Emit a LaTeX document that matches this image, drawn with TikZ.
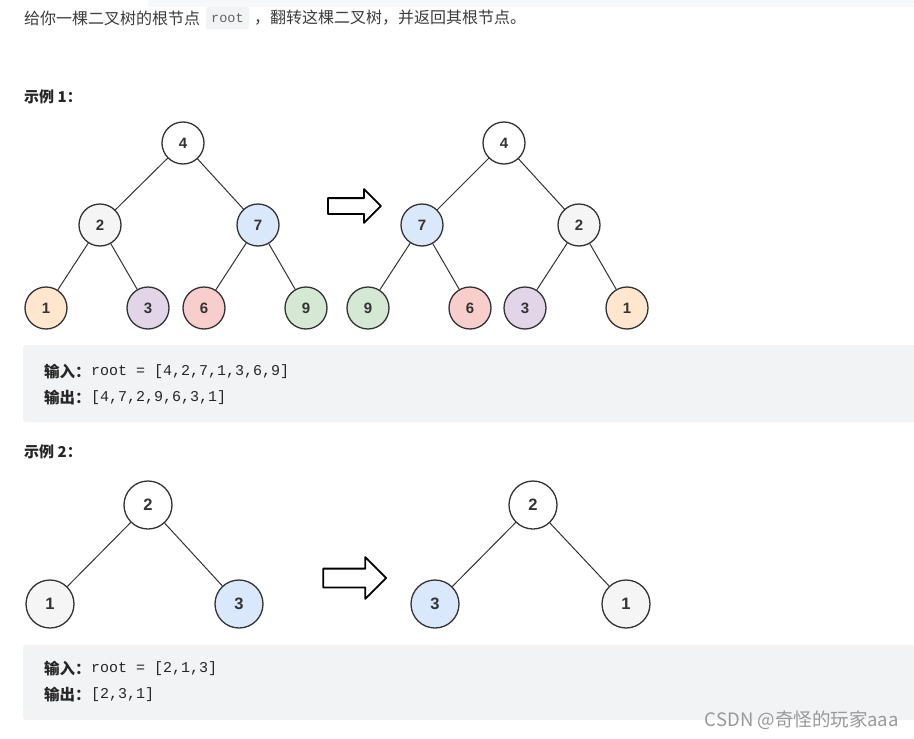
\documentclass[tikz,border=0pt]{standalone}
\usepackage{fontspec}
\setmainfont{Liberation Sans}
\setmonofont{Liberation Mono}
\newfontfamily\cjk{Noto Sans CJK SC}
\usepackage{tikz}
\usetikzlibrary{shapes.arrows}
\definecolor{nodeline}{HTML}{333333}
\definecolor{doctext}{HTML}{3C3C3C}
\definecolor{dochead}{HTML}{262626}
\definecolor{codebg}{HTML}{F2F3F5}
\definecolor{stripbg}{HTML}{F7F8FA}
\definecolor{cWhite}{HTML}{FFFFFF}
\definecolor{cGray}{HTML}{F5F5F5}
\definecolor{cBlue}{HTML}{DAE8FC}
\definecolor{cOrange}{HTML}{FFE6CC}
\definecolor{cPurple}{HTML}{E1D5E7}
\definecolor{cRed}{HTML}{F8CECC}
\definecolor{cGreen}{HTML}{D5E8D4}
\tikzset{
  bt/node/.style={draw=nodeline, circle, line width=1.3pt, inner sep=0pt, minimum size=42pt, text=nodeline, font=\bfseries\fontsize{15}{15}\selectfont},
  bt/big/.style={bt/node, minimum size=48pt, font=\bfseries\fontsize{16.5}{16.5}\selectfont},
  bt/edge/.style={draw=nodeline, line width=1pt},
  bt/flip/.style={single arrow, draw=black, line width=1.8pt, fill=white, inner xsep=0pt, outer sep=0pt, single arrow head extend=#1},
  doc/text/.style={anchor=west, inner sep=0pt, text=doctext, font=\cjk\fontsize{16}{16}\selectfont},
  doc/head/.style={anchor=west, inner sep=0pt, text=dochead, font=\cjk\bfseries\fontsize{15}{15}\selectfont},
  doc/code/.style={anchor=west, inner sep=0pt, text=dochead, font=\ttfamily\fontsize{15}{15}\selectfont},
  doc/box/.style={fill=codebg, rounded corners=3pt},
}

\begin{document}
\begin{tikzpicture}[x=1pt,y=-1pt, line cap=round, line join=round]
\useasboundingbox[fill=white] (0,0) rectangle (914,739);

% Header strip and task text
\fill[stripbg] (148,0) rectangle (914,7);
\fill[codebg, rounded corners=2pt] (206,7) rectangle (249,29);
\node[doc/text] (task) at (24,18) {给你一棵二叉树的根节点};
\node[doc/code, font=\ttfamily\fontsize{13.5}{13.5}\selectfont, text=doctext!80] (rootword) at (211,18) {root};
\node[doc/text] (task2) at (254,18) {，翻转这棵二叉树，并返回其根节点。};

% Example 1
\node[doc/head] (ex1) at (24,97) {示例 1：};

% Tree before
\node[bt/node, fill=cWhite]  (a4) at (183,143) {4};
\node[bt/node, fill=cGray]   (a2) at (100,225) {2};
\node[bt/node, fill=cBlue]   (a7) at (258,225) {7};
\node[bt/node, fill=cOrange] (a1) at (46,308)  {1};
\node[bt/node, fill=cPurple] (a3) at (148,308) {3};
\node[bt/node, fill=cRed]    (a6) at (204,308) {6};
\node[bt/node, fill=cGreen]  (a9) at (306,308) {9};
\foreach \p/\c in {a4/a2, a4/a7, a2/a1, a2/a3, a7/a6, a7/a9}
  \draw[bt/edge] (\p) -- (\c);

% Flip arrow
\node[bt/flip=9pt, inner ysep=7pt, minimum height=53pt] (flipA) at (350.5,206) {};

% Tree after
\node[bt/node, fill=cWhite]  (b4) at (504,143) {4};
\node[bt/node, fill=cBlue]   (b7) at (422,225) {7};
\node[bt/node, fill=cGray]   (b2) at (579,225) {2};
\node[bt/node, fill=cGreen]  (b9) at (368,308) {9};
\node[bt/node, fill=cRed]    (b6) at (470,308) {6};
\node[bt/node, fill=cPurple] (b3) at (525,308) {3};
\node[bt/node, fill=cOrange] (b1) at (627,308) {1};
\foreach \p/\c in {b4/b7, b4/b2, b7/b9, b7/b6, b2/b3, b2/b1}
  \draw[bt/edge] (\p) -- (\c);

% Code block 1
\fill[doc/box] (23,345) rectangle (920,422);
\node[doc/head, font=\cjk\bfseries\fontsize{15.5}{15.5}\selectfont] (in1) at (44,372) {输入：};
\node[doc/code] (in1val) at (in1.east) {root = [4,2,7,1,3,6,9]};
\node[doc/head, font=\cjk\bfseries\fontsize{15.5}{15.5}\selectfont] (out1) at (44,398) {输出：};
\node[doc/code] (out1val) at (out1.east) {[4,7,2,9,6,3,1]};

% Example 2
\node[doc/head] (ex2) at (24,452) {示例 2：};

% Tree before
\node[bt/big, fill=cWhite] (c2) at (148,505) {2};
\node[bt/big, fill=cGray]  (c1) at (50,604)  {1};
\node[bt/big, fill=cBlue]  (c3) at (239,604) {3};
\foreach \c in {c1, c3}
  \draw[bt/edge] (c2) -- (\c);

% Flip arrow
\node[bt/flip=11.5pt, inner ysep=8.5pt, minimum height=63pt] (flipB) at (350,578) {};

% Tree after
\node[bt/big, fill=cWhite] (d2) at (533,505) {2};
\node[bt/big, fill=cBlue]  (d3) at (435,604) {3};
\node[bt/big, fill=cGray]  (d1) at (626,604) {1};
\foreach \c in {d3, d1}
  \draw[bt/edge] (d2) -- (\c);

% Code block 2
\fill[doc/box] (23,645) rectangle (920,720);
\node[doc/head, font=\cjk\bfseries\fontsize{15.5}{15.5}\selectfont] (in2) at (44,669) {输入：};
\node[doc/code] (in2val) at (in2.east) {root = [2,1,3]};
\node[doc/head, font=\cjk\bfseries\fontsize{15.5}{15.5}\selectfont] (out2) at (44,695) {输出：};
\node[doc/code] (out2val) at (out2.east) {[2,3,1]};

% Watermark
\node[anchor=east, inner sep=0pt, text=black!40, font=\cjk\fontsize{18.5}{18.5}\selectfont] (mark) at (899,720) {CSDN @奇怪的玩家aaa};
\end{tikzpicture}
\end{document}
